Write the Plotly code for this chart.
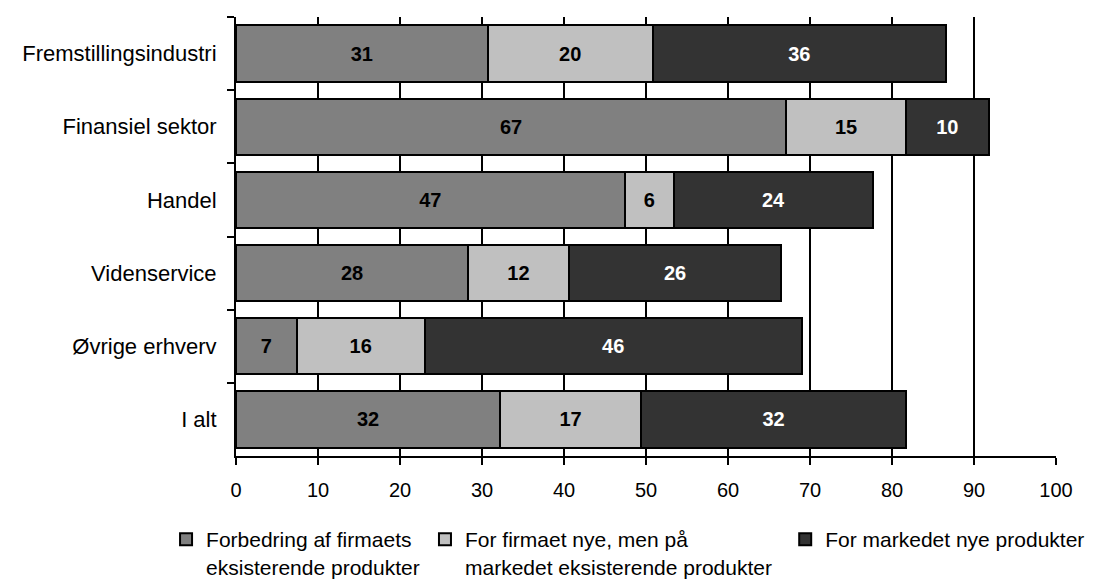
import plotly.graph_objects as go

categories = ["Fremstillingsindustri", "Finansiel sektor", "Handel", "Videnservice", "Øvrige erhverv", "I alt"]
series_names = [
    "Forbedring af firmaets<br>eksisterende produkter",
    "For firmaet nye, men på<br>markedet eksisterende produkter",
    "For markedet nye produkter",
]
forbedring = [30.7, 67.1, 47.4, 28.3, 7.4, 32.2]
firmaet_nye = [20.1, 14.6, 6.0, 12.3, 15.6, 17.2]
markedet_nye = [35.8, 10.1, 24.3, 25.9, 46.0, 32.3]
x_ticks = [0, 10, 20, 30, 40, 50, 60, 70, 80, 90, 100]

colors = ["#808080", "#C0C0C0", "#333333"]
text_colors = ["black", "black", "white"]
legend_ids = ["legend", "legend2", "legend3"]
legend_x = [0.1454, 0.3836, 0.7150]
FONT = "Arial, 'Liberation Sans', sans-serif"

fig = go.Figure()
for name, vals, c, tc, lg in zip(series_names, [forbedring, firmaet_nye, markedet_nye],
                                 colors, text_colors, legend_ids):
    fig.add_trace(go.Bar(
        y=categories, x=vals, orientation="h", name=name, legend=lg, showlegend=True,
        marker=dict(color=c, line=dict(color="black", width=2)),
        texttemplate="<b>%{x:.0f}</b>", textposition="inside",
        insidetextanchor="middle", constraintext="none",
        textfont=dict(color=tc, size=20, family=FONT),
        hoverinfo="skip",
    ))

legend_common = dict(orientation="h", xref="container", xanchor="left",
                     yref="container", y=0.105, yanchor="top", valign="top",
                     font=dict(size=21, family=FONT, color="black"))

fig.update_layout(
    showlegend=True,
    barmode="stack", bargap=0.23,
    width=1087, height=571,
    margin=dict(l=228, r=39, t=9, b=123),
    paper_bgcolor="white", plot_bgcolor="white",
    font=dict(family=FONT, size=20, color="black"),
    legend=dict(x=legend_x[0], **legend_common),
    legend2=dict(x=legend_x[1], **legend_common),
    legend3=dict(x=legend_x[2], **legend_common),
    xaxis=dict(range=[0, 100], tickvals=x_ticks, showgrid=True, gridcolor="black", gridwidth=2,
               showline=True, linecolor="black", linewidth=2, ticks="outside", ticklen=7,
               tickwidth=2, tickcolor="black", zeroline=False, ticklabelstandoff=8),
    yaxis=dict(type="category", autorange="reversed", tickson="boundaries", ticks="outside",
               ticklen=7, tickwidth=2, tickcolor="black", showline=True, linecolor="black",
               linewidth=2, showgrid=False, tickfont=dict(size=22), ticklabelstandoff=13),
)

fig.write_html("out.html")
